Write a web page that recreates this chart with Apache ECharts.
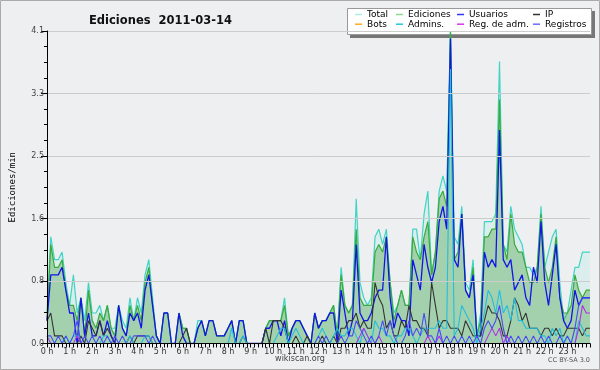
<!DOCTYPE html>
<html><head><meta charset="utf-8">
<script src="https://cdn.jsdelivr.net/npm/echarts@6/dist/echarts.min.js"></script>
<style>html,body{margin:0;padding:0;background:#eeeff1}#c{width:600px;height:370px}</style>
</head><body><div id="c"></div>
<script>
// 10-minute slots from 00:00 to 24:00
const times = [];
for (let h = 0; h <= 24; h++) for (let m = 0; m < 60; m += 10) { if (h === 24 && m > 0) break; times.push(h + ':' + (m < 10 ? '0' : '') + m); }

const total = [
0.4,1.4,1.1,1.1,1.2,0.8, 0.5,0.9,0.4,0.6,0.3,0.8, 0.4,0.4,0.5,0.3,0.5,0.2, 0.2,0.5,0.3,0.2,0.6,0.3,
0.6,0.4,0.9,1.1,0.6,0.1, 0,0.4,0.4,0,0,0.4, 0.2,0.2,0,0,0.3,0.3, 0.1,0.3,0.3,0.1,0.1,0.1,
0.2,0.3,0,0.3,0.3,0, 0,0,0,0,0.2,0.3, 0.3,0.3,0.3,0.6,0.1,0.2, 0.3,0.3,0.2,0.1,0,0.4,
0.2,0.3,0.3,0.4,0.5,0.1, 1.0,0.5,0.4,0.5,1.9,0.8, 0.6,0.5,0.6,1.4,1.5,1.3, 1.5,0.8,0.4,0.5,0.7,0.5,
0.5,1.5,1.5,1.1,1.7,2.0, 0.9,1.2,2.0,2.2,2.0,4.1, 1.4,1.3,1.8,0.8,0.7,1.1, 0.1,0.4,1.6,1.6,1.6,1.7,
3.7,1.3,1.2,1.8,1.5,1.4, 1.3,1.0,1.0,0.9,1.0,1.8, 1.0,1.2,1.4,1.5,0.8,0.3, 0.4,0.7,1.0,1.0,1.2,1.2,
1.2];
const ediciones = [
0.3,1.3,1.0,1.0,1.1,0.7, 0.5,0.5,0.3,0.6,0.1,0.7, 0.3,0.2,0.4,0.3,0.5,0.2, 0.1,0.5,0.2,0.1,0.5,0.3,
0.5,0.3,0.8,1.0,0.5,0.1, 0,0.4,0.4,0,0,0.4, 0.2,0.2,0,0,0.2,0.3, 0.1,0.3,0.3,0.1,0.1,0.1,
0.2,0.3,0,0.3,0.3,0, 0,0,0,0,0.2,0.3, 0.3,0.3,0.3,0.5,0.1,0.2, 0.3,0.3,0.2,0.1,0,0.4,
0.2,0.3,0.3,0.4,0.5,0.1, 0.9,0.5,0.4,0.5,1.5,0.6, 0.5,0.5,0.5,1.2,1.3,1.2, 1.4,0.8,0.3,0.5,0.7,0.5,
0.5,1.4,1.2,1.1,1.4,1.6, 0.9,1.2,1.9,2.0,1.8,4.1, 1.1,1.2,1.7,0.7,0.6,1.0, 0.1,0.3,1.4,1.4,1.5,1.5,
3.2,1.3,1.1,1.7,1.3,1.2, 1.2,1.0,0.8,0.8,1.0,1.7, 1.0,0.8,1.0,1.4,0.6,0.4, 0.4,0.5,0.9,0.7,0.6,0.7,
0.7];
const usuarios = [
0.3,0.9,0.9,0.9,1.0,0.7, 0.4,0.4,0,0.6,0.1,0.4, 0.1,0.1,0.3,0.1,0.3,0.1, 0,0.5,0.2,0.1,0.4,0.3,
0.4,0.2,0.7,0.9,0.5,0.1, 0,0.4,0.4,0,0,0.4, 0.1,0,0,0,0.2,0.3, 0.1,0.3,0.3,0.1,0.1,0.1,
0.2,0.3,0,0.3,0.3,0, 0,0,0,0,0.2,0.2, 0.3,0.3,0.1,0.3,0,0.2, 0.3,0.3,0.2,0.1,0,0.4,
0.2,0.3,0.3,0.4,0.4,0, 0.7,0.4,0.1,0.3,1.3,0.4, 0.3,0.3,0.4,0.6,0.7,0.7, 1.4,0.6,0.2,0.4,0.3,0.3,
0.1,1.1,0.9,0.7,1.3,1.0, 0.8,1.0,1.6,1.8,1.5,4.0, 1.1,1.0,1.7,0.7,0.6,0.9, 0.1,0.1,1.2,1.0,1.1,1.0,
2.8,1.1,1.0,1.1,0.7,0.8, 0.9,0.6,0.5,1.0,0.8,1.6, 0.8,0.5,0.9,1.3,0.6,0.3, 0.2,0.3,0.7,0.5,0.6,0.6,
0.6];
const ip = [
0.3,0.4,0.1,0.1,0.1,0, 0,0,0,0.1,0,0.3, 0.2,0.1,0.3,0.1,0.2,0.1, 0,0,0,0,0.1,0,
0.1,0.1,0.1,0.1,0,0, 0,0,0,0,0,0, 0.1,0.2,0,0,0,0, 0,0,0,0,0,0,
0,0,0,0,0.1,0, 0,0,0,0,0.2,0, 0.3,0.3,0.3,0.2,0,0, 0.1,0,0,0.1,0,0,
0,0.1,0,0,0.1,0, 0.2,0.2,0.3,0.3,0.4,0.2, 0.3,0.2,0.2,0.8,0.6,0.5, 0.2,0.3,0.1,0.1,0.3,0.2,
0.5,0.3,0.3,0.2,0.2,0.1, 0.8,0.5,0.2,0.3,0.3,0.2, 0.2,0.2,0.1,0.3,0.2,0.1, 0.1,0.1,0.3,0.5,0.4,0.4,
0.3,0.1,0.1,0.3,0.6,0.5, 0.3,0.4,0.2,0.2,0.2,0.1, 0.2,0.2,0.1,0.2,0.1,0.1, 0.2,0.2,0.2,0.2,0.1,0.2,
0.2];
const bots = [
0,0,0,0,0,0, 0,0,0,0,0,0, 0,0,0,0,0,0, 0,0,0,0,0,0, 0,0,0,0,0,0, 0,0,0,0,0,0,
0,0,0,0,0,0, 0,0,0,0,0,0, 0,0,0,0,0,0, 0,0,0,0,0,0, 0,0,0,0,0,0, 0,0,0,0,0,0,
0,0,0,0,0,0, 0,0,0,0,0,0, 0,0,0,0,0,0, 0,0,0,0,0,0, 0,0,0,0,0,0, 0,0,0,0,0,0,
0,0,0,0,0,0, 0,0,0,0,0,0, 0,0,0,0,0,0, 0,0,0,0,0,0, 0,0,0,0,0,0, 0,0,0,0,0,0,
0];
const admins = [
0,0,0,0,0,0.1, 0,0.1,0.1,0,0,0, 0,0,0,0.1,0.1,0, 0,0,0,0,0.1,0,
0,0,0.1,0.1,0,0, 0,0,0,0,0,0, 0,0,0,0,0,0, 0,0,0,0,0,0,
0,0.2,0,0,0.1,0, 0,0,0,0,0,0, 0,0.1,0.2,0.2,0,0.1, 0.2,0.1,0,0,0,0,
0.1,0.2,0.1,0,0.1,0.2, 0.1,0.1,0.2,0.2,0.1,0, 0.2,0.1,0,0.3,0.2,0.2, 0.1,0.1,0,0.1,0.1,0.2,
0.2,0.1,0,0.1,0.2,0.2, 0.2,0.2,0.3,0.2,0.2,3.6, 0.1,0.2,0.5,0.4,0.3,0.2, 0,0.2,0.4,0.7,0.6,0.4,
0.7,0.4,0.5,0.3,0.6,0.3, 0.3,0.2,0.2,0.2,0.2,0.1, 0.1,0,0.2,0.1,0.2,0, 0.1,0,0,0.3,0.2,0.1,
0.1];
const regAdm = [
0.1,0,0,0,0,0, 0,0,0.1,0,0,0, 0,0,0,0,0,0, 0,0,0,0,0,0,
0,0,0,0,0,0, 0,0,0,0,0,0, 0,0,0,0,0,0, 0,0,0,0,0,0,
0,0,0,0,0,0, 0,0,0,0,0,0, 0,0,0,0,0,0, 0,0,0,0,0,0,
0,0,0,0,0,0, 0,0,0,0,0,0.1, 0.2,0.1,0,0,0.1,0, 0,0,0,0,0,0,
0,0,0,0,0,0.1, 0,0,0.1,0,0,0, 0,0,0,0,0,0, 0,0,0,0.1,0.2,0.1,
0.2,0,0.1,0,0,0, 0,0,0,0,0,0, 0,0,0,0,0,0, 0,0,0,0.2,0.5,0.4,
0.4];
const registros = [
0.1,0.1,0,0.1,0,0.1, 0,0.1,0.3,0,0.1,0, 0.1,0,0.1,0,0.1,0, 0.1,0,0.1,0,0,0.1,
0.1,0.1,0.1,0,0.1,0, 0,0,0,0,0,0, 0,0,0,0,0,0, 0,0,0,0,0,0,
0,0,0,0,0,0, 0,0,0,0,0,0, 0,0,0,0,0,0, 0,0,0,0,0,0,
0.1,0,0.1,0,0,0, 0.1,0,0.1,0.1,0.3,0.2, 0.1,0,0.1,0,0.1,0.3, 0.1,0.3,0.1,0,0,0.1,
0.3,0.1,0.2,0.1,0.4,0.1, 0.1,0,0.2,0,0.1,0, 0.1,0,0.1,0,0.1,0, 0.1,0,0.2,0.3,0.2,0.3,
0.5,0.2,0,0.1,0,0.1, 0,0.1,0,0.1,0,0.1, 0,0.1,0,0,0.1,0, 0.1,0,0.2,0.5,0.6,0.6,
0.6];

const F = 'DejaVu Sans';
const chart = echarts.init(document.getElementById('c'), null, {renderer: 'canvas'});

function line(name, data, color, width, z, area) {
  const s = {name, type: 'line', data, symbol: 'none', z,
    lineStyle: {color, width}, itemStyle: {color}, emphasis: {disabled: true}, animation: false};
  if (area) s.areaStyle = {color: area, origin: 'start'};
  return s;
}

function legendCol(left, names, colors) {
  return {left, top: 10, z: 30, orient: 'vertical', itemGap: 0.7, itemWidth: 7, itemHeight: 1.5, icon: 'rect',
    selectedMode: false, padding: 0,
    textStyle: {fontFamily: F, fontSize: 9, color: '#000', lineHeight: 9, padding: 0},
    data: names.map((n, k) => ({name: n, itemStyle: {color: colors[k]}}))};
}

chart.setOption({
  backgroundColor: '#eeeff1',
  animation: false,
  title: {text: 'Ediciones  2011-03-14', left: 84, top: 10,
    textStyle: {fontFamily: F, fontSize: 11.5, fontWeight: 'bold', color: '#111'}},
  grid: {left: 46, right: 10, top: 31, bottom: 26.5},
  legend: [
    legendCol(355, ['Total', 'Bots'], ['#a8eee2', '#ffaa22']),
    legendCol(396, ['Ediciones', 'Admins.'], ['#88dd88', '#22c8dc']),
    legendCol(457, ['Usuarios', 'Reg. de adm.'], ['#3333ff', '#dd33ee']),
    legendCol(533, ['IP', 'Registros'], ['#333333', '#6a6aff'])
  ],
  xAxis: {type: 'category', data: times, boundaryGap: false, z: 5,
    axisLine: {lineStyle: {color: '#000', width: 1}},
    axisTick: {show: true, interval: 0, length: 4, lineStyle: {color: '#000'}},
    axisLabel: {interval: (i) => i % 6 === 0 && i < 144, formatter: (v) => v.split(':')[0] + ' h',
      fontFamily: F, fontSize: 8, color: '#333', margin: 4},
    splitLine: {show: false}},
  yAxis: {type: 'value', min: 0, max: 4.1, interval: 0.82, z: 5,
    name: 'Ediciones/min', nameLocation: 'middle', nameRotate: 90, nameGap: 30,
    nameTextStyle: {fontFamily: 'DejaVu Sans Mono', fontSize: 9, color: '#000'},
    axisLine: {show: true, lineStyle: {color: '#000'}},
    axisTick: {show: true, length: 6, lineStyle: {color: '#000'}},
    minorTick: {show: true, splitNumber: 4, length: 3, lineStyle: {color: '#000'}},
    axisLabel: {formatter: (v) => v.toFixed(1), fontFamily: F, fontSize: 8, color: '#444', margin: 3},
    splitLine: {lineStyle: {color: '#cccccc', width: 1}}},
  graphic: [
    {type: 'rect', shape: {x: 350, y: 11, width: 245, height: 27}, style: {fill: '#777'}, z: 1},
    {type: 'rect', shape: {x: 347.5, y: 8.5, width: 244, height: 26}, style: {fill: '#fff', stroke: '#999', lineWidth: 1}, z: 2},
    {type: 'text', left: 'center', top: 355, style: {text: 'wikiscan.org', font: '8px "DejaVu Sans"', fill: '#444'}},
    {type: 'text', right: 10, top: 357, style: {text: 'CC BY-SA 3.0', font: '6.5px "DejaVu Sans"', fill: '#555'}},
    {type: 'rect', shape: {x: 0.5, y: 0.5, width: 599, height: 369}, style: {fill: 'none', stroke: '#aaa', lineWidth: 1}, silent: true}
  ],
  series: [
    line('Total', total, '#3fd4c4', 1.2, 2, 'rgba(64,224,200,0.15)'),
    line('Ediciones', ediciones, '#3aaa3a', 1.2, 3, 'rgba(60,160,60,0.5)'),
    line('Usuarios', usuarios, '#1414e6', 1.3, 4),
    line('IP', ip, '#333333', 1.1, 4),
    line('Bots', bots, '#ffaa22', 1, 1),
    line('Admins.', admins, '#22bedc', 1.1, 4),
    line('Reg. de adm.', regAdm, '#b030e8', 1.1, 4),
    line('Registros', registros, '#4a4af5', 1.1, 4)
  ]
});
</script></body></html>
